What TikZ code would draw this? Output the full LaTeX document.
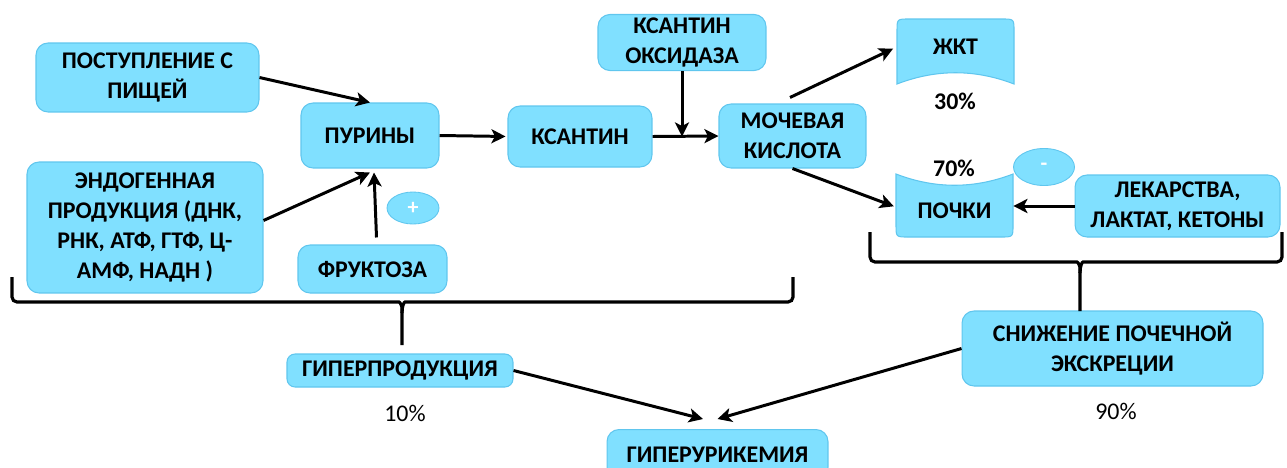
\documentclass[tikz,border=0pt]{standalone}
\usepackage{fontspec}
\setmainfont{Carlito}
\usepackage{tikz}
\usetikzlibrary{arrows.meta, shapes.geometric}
\definecolor{boxfill}{RGB}{128,224,255}
\definecolor{boxline}{RGB}{96,198,238}
\tikzset{
  block/.style={draw=boxline, fill=boxfill, line width=0.6pt, rounded corners=0.24cm,
    align=center, inner sep=2pt, font=\bfseries\fontsize{13.6}{16.9}\selectfont},
  organ/.style={draw=boxline, fill=boxfill, line width=0.6pt},
  label/.style={align=center, inner sep=1pt, font=\bfseries\fontsize{13.6}{16.9}\selectfont},
  sign/.style={ellipse, draw=boxline, fill=boxfill, line width=0.5pt, text=white,
    inner sep=0pt, font=\bfseries\fontsize{12.5}{14}\selectfont},
  pct/.style={inner sep=1pt, font=\fontsize{13.6}{15}\selectfont},
  arrow/.style={line width=1.7pt, -{Stealth[length=8pt,width=8pt,inset=2pt]}},
  brace/.style={line width=1.8pt, rounded corners=0.1cm}
}
\begin{document}
\begin{tikzpicture}[x=0.02cm, y=-0.02cm]
		\useasboundingbox (0,0) rectangle (1287,467);
		
		% источники пуринов
		\node[block, minimum width=4.46cm, minimum height=1.38cm] (postup) at (147.5,77.5) {ПОСТУПЛЕНИЕ С\\ПИЩЕЙ};
		\node[block, minimum width=4.72cm, minimum height=2.62cm] (endo) at (145,227.5) {ЭНДОГЕННАЯ\\ПРОДУКЦИЯ (ДНК,\\РНК, АТФ, ГТФ, Ц-\\АМФ, НАДН )};
		\node[block, minimum width=2.76cm, minimum height=1.3cm] (puriny) at (370,135.5) {ПУРИНЫ};
		\node[block, minimum width=2.98cm, minimum height=0.96cm] (fruct) at (372.5,269) {ФРУКТОЗА};
		\node[sign, minimum width=1.04cm, minimum height=0.64cm] (plus) at (413,208) {+};
		
		% цепочка распада
		\node[block, minimum width=2.88cm, minimum height=1.22cm] (ksantin) at (580,136.5) {КСАНТИН};
		\node[block, minimum width=3.36cm, minimum height=1.1cm] (oxid) at (682,42.5) {КСАНТИН\\ОКСИДАЗА};
		\node[block, minimum width=2.94cm, minimum height=1.28cm] (urik) at (792.5,136) {МОЧЕВАЯ\\КИСЛОТА};
		
		% пути выведения
		\path[organ] (897,84) -- (897,31) .. controls (897,19) .. (909,19) -- (1002,19) .. controls (1014,19) .. (1014,31)
			-- (1014,84) .. controls (975,69) and (936,69) .. (897,84) -- cycle;
		\node[label, minimum width=2.34cm, minimum height=0.9cm] (zhkt) at (955.5,47) {ЖКТ};
		\path[organ] (896,174) -- (896,225) .. controls (896,237) .. (908,237) -- (1001,237) .. controls (1013,237) .. (1013,225)
			-- (1013,174) .. controls (974,189) and (935,189) .. (896,174) -- cycle;
		\node[label, minimum width=2.34cm, minimum height=0.9cm] (pochki) at (954.5,211) {ПОЧКИ};
		\node[sign, minimum width=1.22cm, minimum height=0.74cm] (minus) at (1044,167) {-};
		\node[block, minimum width=4.1cm, minimum height=1.24cm] (lekar) at (1177.5,206) {ЛЕКАРСТВА,\\ЛАКТАТ, КЕТОНЫ};
		\node[label] (p30) at (955,101) {30\%};
		\node[label] (p70) at (954,168) {70\%};
		
		% итог
		\node[block, rounded corners=0.16cm, minimum width=4.52cm, minimum height=0.66cm] (giper) at (400,370.5) {ГИПЕРПРОДУКЦИЯ};
		\node[block, minimum width=6.02cm, minimum height=1.5cm] (snizh) at (1112.5,348.5) {СНИЖЕНИЕ ПОЧЕЧНОЙ\\ЭКСКРЕЦИИ};
		\node[block, anchor=north, minimum width=4.42cm, minimum height=1cm] (urikemia) at (717.5,429) {ГИПЕРУРИКЕМИЯ};
		\node[pct] (p10) at (405,413) {10\%};
		\node[pct] (p90) at (1116,411) {90\%};
		
		% стрелки
		\draw[arrow] (postup.east) -- (puriny.north);
		\draw[arrow] ([yshift=0.14cm]endo.east) -- ([yshift=-0.08cm]puriny.south);
		\draw[arrow] ([xshift=0.08cm,yshift=0.14cm]fruct.north) -- ([xshift=0.08cm,yshift=-0.08cm]puriny.south);
		\draw[arrow, shorten >=0.04cm] (puriny.east) -- (ksantin.west);
		\draw[arrow] (ksantin.east) -- (urik.west);
		\draw[arrow] (oxid.south) -- (oxid.south |- ksantin.east);
		\draw[arrow, shorten >=0.08cm] ([shift={(-0.05cm,0.12cm)}]urik.north) -- (zhkt.west);
		\draw[arrow, shorten >=0.04cm] (urik.south) -- ([yshift=0.08cm]pochki.west);
		\draw[arrow] (lekar.west) -- (lekar.west -| pochki.east);
		\draw[arrow] (giper.east) -- ([shift={(-0.29cm,0.2cm)}]urikemia.north);
		\draw[arrow] (snizh.west) -- ([yshift=0.2cm]urikemia.north);
		
		% фигурные скобки
		\draw[brace] (12,277) -- (12,302) -- (394,302) .. controls (400,302) and (402,306) .. (402,313) -- (402,345);
		\draw[brace] (793,277) -- (793,302) -- (410,302) .. controls (404,302) and (402,306) .. (402,313);
		\draw[brace] (870,232) -- (870,262) -- (1072,262) .. controls (1078,262) and (1080,266) .. (1080,273) -- (1080,311);
		\draw[brace] (1282,232) -- (1282,262) -- (1088,262) .. controls (1082,262) and (1080,266) .. (1080,273);
	\end{tikzpicture}
\end{document}
